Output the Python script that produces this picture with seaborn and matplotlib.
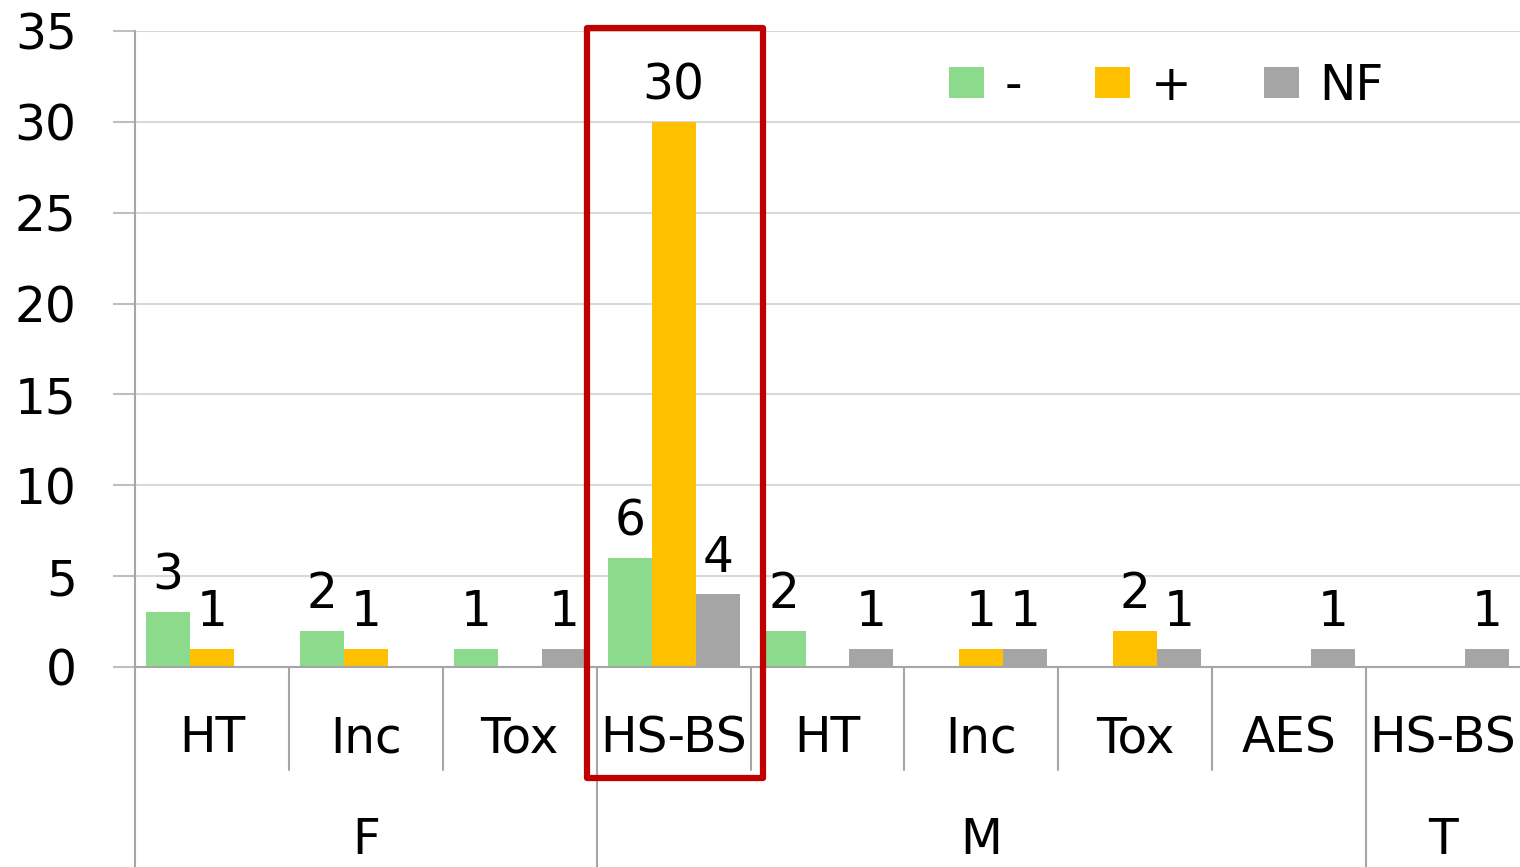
import matplotlib
matplotlib.use("Agg")
import matplotlib.pyplot as plt
import matplotlib.transforms as mtransforms
from matplotlib.patches import Rectangle
import numpy as np
import pandas as pd
import seaborn as sns

# ── data ─────────────────────────────────────────────────────────────────────
groups     = ["F", "F", "F", "M", "M", "M", "M", "M", "T"]
categories = ["HT", "Inc", "Tox", "HS-BS", "HT", "Inc", "Tox", "AES", "HS-BS"]
series     = ["-", "+", "NF"]
neg_vals   = [3, 2, 1, 6, 2, 0, 0, 0, 0]
pos_vals   = [1, 1, 0, 30, 0, 1, 2, 0, 0]
nf_vals    = [0, 0, 1, 4, 1, 1, 1, 1, 1]
group_names = ["F", "M", "T"]

_COLORS = {"-": "#8CDB8C", "+": "#FFC000", "NF": "#A5A5A5"}
_FS = 35

keys = [f"{g}|{c}" for g, c in zip(groups, categories)]
df = pd.DataFrame({
    "key":    keys * 3,
    "series": np.repeat(series, len(keys)),
    "value":  neg_vals + pos_vals + nf_vals,
})

sns.set_style("white")
plt.rcParams["font.family"] = ["DejaVu Sans"]
plt.rcParams["text.color"] = "black"
plt.rcParams["ytick.labelcolor"] = "black"

fig = plt.figure(figsize=(15.2, 8.67), dpi=100)
ax = fig.add_axes([135 / 1520, 1 - 667 / 867, 1385 / 1520, 636 / 867])

sns.barplot(data=df, x="key", y="value", hue="series", order=keys,
            hue_order=series, palette=_COLORS, saturation=1, width=0.857,
            errorbar=None, linewidth=0, ax=ax)

for cont in ax.containers:
    labels = [f"{v:g}" if v > 0 else "" for v in cont.datavalues]
    ax.bar_label(cont, labels=labels, fontsize=_FS, padding=9, color="black")

ax.set_xlim(-0.5, len(keys) - 0.5)
ax.set_ylim(0, 35)
ax.set_yticks(range(0, 36, 5))
ax.yaxis.grid(True, color="#D9D9D9", linewidth=1.5)
ax.set_axisbelow(True)
ax.tick_params(axis="y", labelsize=_FS, length=16, width=1.5, color="#BFBFBF",
               pad=26, left=True, labelcolor="black")
ax.set_xticks(range(len(keys)))
ax.set_xticklabels([])
ax.tick_params(axis="x", length=0)
ax.set_xlabel("")
ax.set_ylabel("")
for side in ["top", "right"]:
    ax.spines[side].set_visible(False)
ax.spines["left"].set_color("#A6A6A6")
ax.spines["bottom"].set_color("#A6A6A6")
ax.spines["left"].set_linewidth(1.5)
ax.spines["bottom"].set_linewidth(1.5)

# ── multi-level category axis ────────────────────────────────────────────────
trans = mtransforms.blended_transform_factory(ax.transData, ax.transAxes)
y_bottom = -200 / 636
for i, c in enumerate(categories):
    ax.text(i, -0.112, c, transform=trans, ha="center", va="center",
            fontsize=_FS, clip_on=False)

for i in range(1, len(keys)):
    if groups[i] != groups[i - 1]:
        y_end = y_bottom
    else:
        y_end = -103 / 636
    ax.plot([i - 0.5, i - 0.5], [0, y_end], transform=trans, color="#A6A6A6",
            linewidth=1.5, clip_on=False)
ax.plot([-0.5, -0.5], [0, y_bottom], transform=trans, color="#A6A6A6",
        linewidth=1.5, clip_on=False)

for g in group_names:
    idx = [i for i, gg in enumerate(groups) if gg == g]
    ax.text(np.mean(idx), -0.272, g, transform=trans, ha="center",
            va="center", fontsize=_FS, clip_on=False)

# ── legend ───────────────────────────────────────────────────────────────────
ax.legend(loc="center left", bbox_to_anchor=(0.588, 0.914), ncol=3,
          frameon=False, fontsize=_FS, handlelength=0.72, handleheight=0.62,
          handletextpad=0.42, columnspacing=1.5, borderpad=0, borderaxespad=0)

# ── highlight box ────────────────────────────────────────────────────────────
rect = Rectangle(((587 - 135) / 1385, -111 / 636), 176 / 1385, 750 / 636,
                 transform=ax.transAxes, fill=False, edgecolor="#C00000",
                 linewidth=4.5, clip_on=False, joinstyle="round", zorder=10)
ax.add_patch(rect)

fig.savefig("out.png", dpi=100)
plt.close(fig)
